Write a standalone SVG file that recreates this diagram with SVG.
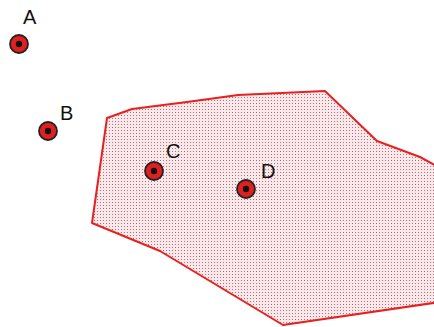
<svg xmlns="http://www.w3.org/2000/svg" width="434" height="327" viewBox="0 0 434 327">
<defs>
<pattern id="dots" width="3" height="3" patternUnits="userSpaceOnUse">
<rect width="3" height="3" fill="#f8eaea"/>
<rect x="1" y="1" width="1" height="1" fill="#c06878"/>
</pattern>
<style>
.lbl{font-family:"Liberation Sans",Arial,sans-serif;font-size:20px;fill:#111}
.pt{fill:#e02020;stroke:#222;stroke-width:1.8}
.ctr{fill:#111}
</style>
</defs>
<rect width="434" height="327" fill="#fff"/>
<g id="region">
<polygon points="107,118 132,109 187,102 238,95 325,91 377,141 420,157 440,168 440,302 283,325 160,251 92,223" fill="url(#dots)" stroke="#e82020" stroke-width="2" stroke-linejoin="round"/>
</g>
<g id="A"><circle class="pt" cx="19" cy="44" r="9"/><circle class="ctr" cx="19" cy="44" r="3.2"/><text class="lbl" x="23" y="24">A</text></g>
<g id="B"><circle class="pt" cx="48" cy="131" r="9"/><circle class="ctr" cx="48" cy="131" r="3.2"/><text class="lbl" x="60" y="120">B</text></g>
<g id="C"><circle class="pt" cx="154" cy="171" r="9"/><circle class="ctr" cx="154" cy="171" r="3.2"/><text class="lbl" x="166" y="158">C</text></g>
<g id="D"><circle class="pt" cx="246" cy="189" r="9"/><circle class="ctr" cx="246" cy="189" r="3.2"/><text class="lbl" x="261" y="178">D</text></g>
<g id="connectors"/>
</svg>
